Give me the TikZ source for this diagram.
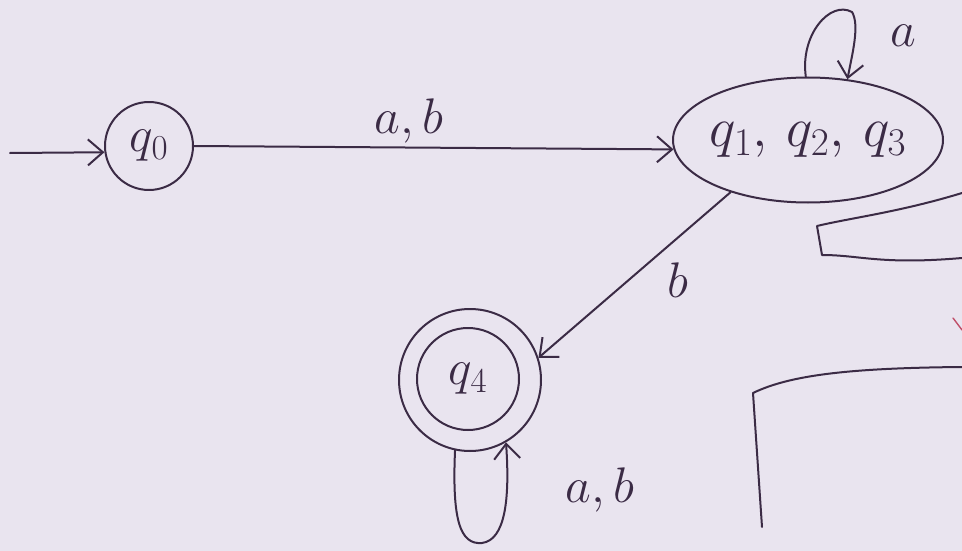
\documentclass[tikz,border=0pt]{standalone}
\usepackage{fix-cm}
\usetikzlibrary{arrows.meta,shapes.geometric}
\definecolor{paper}{HTML}{E9E4EF}
\definecolor{ink}{HTML}{3B2B45}
\definecolor{redink}{HTML}{C0506A}
\tikzset{
  pen/.style={draw=ink, line width=2pt, line cap=round, line join=round},
  edge/.style={pen, -{Straight Barb[length=15pt,width=26pt,line width=2pt]}},
  state/.style={pen, circle, inner sep=0pt, text=ink},
  lbl/.style={text=ink, font=\fontsize{50}{54}\selectfont}
}
\begin{document}
\begin{tikzpicture}[x=1pt,y=-1pt]
  \fill[paper] (0,0) rectangle (962,551);
  \useasboundingbox (0,0) rectangle (962,551);

  % states
  \node[state, minimum size=88pt, font=\fontsize{50}{54}\selectfont] (q0) at (149,146) {$q_0$};
  \node[pen, ellipse, minimum width=270pt, minimum height=125pt, inner sep=0pt] (E) at (808,140) {};
  \node[text=ink, font=\fontsize{56}{60}\selectfont] (Et) at (E.center) {$q_1,\, q_2,\, q_3$};
  \node[state, minimum size=142pt] (q4) at (470,380) {};
  \node[state, minimum size=102pt, font=\fontsize{50}{54}\selectfont] (q4i) at (468,379) {$q_4$};

  % initial arrow
  \coordinate (start) at (10,153);
  \draw[edge] (start) -- (q0.188);

  % transitions
  \draw[edge] (q0.east) -- node[lbl, above=0pt, xshift=-25pt] {$a,b$} (E.184);
  \draw[edge] (E.214) -- (q4.18);
  \node[lbl] (lb) at (678,280) {$b$};

  % self-loop on {q1,q2,q3}
  \draw[edge] (E.92) .. controls (800,35) and (830,0) .. (852,12)
                     .. controls (860,25) and (852,55) .. (E.57);
  \node[lbl] (la) at (903,36) {$a$};

  % self-loop on q4
  \draw[edge] (q4.258) .. controls (452,520) and (460,545) .. (482,543)
                       .. controls (505,540) and (510,500) .. (q4.300);
  \node[lbl] (lab) at (600,490) {$a,b$};

  % other pen strokes on the page
  \draw[pen] (962,193) .. controls (900,212) and (850,218) .. (817,226)
             -- (822,255) .. controls (860,255) and (880,265) .. (962,258);
  \draw[pen] (962,367) .. controls (850,368) and (790,375) .. (753,393) -- (762,527);
  \draw[draw=redink, line width=1.4pt, line cap=round] (953,318) -- (962,330);
\end{tikzpicture}
\end{document}
